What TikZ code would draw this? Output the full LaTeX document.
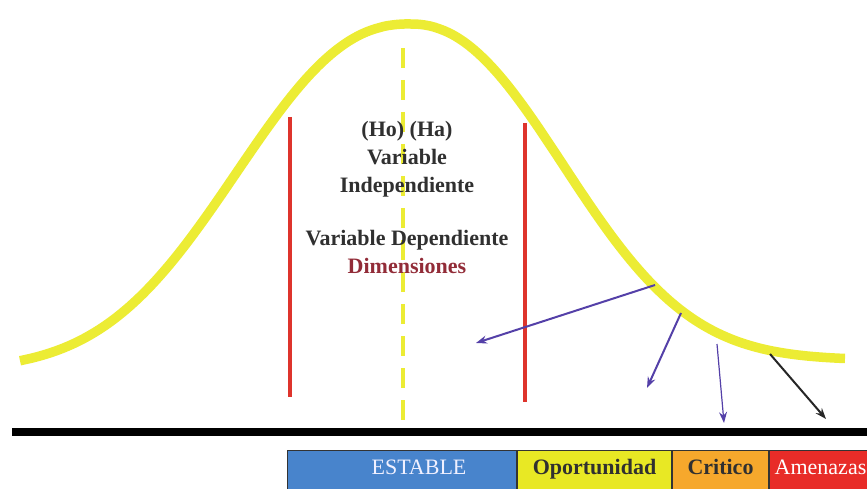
\documentclass[tikz,border=0pt]{standalone}
\usepackage{fontspec}
\setmainfont{Liberation Serif}
\usetikzlibrary{arrows.meta}
\definecolor{curveyellow}{RGB}{236,236,52}
\definecolor{limitred}{RGB}{222,52,44}
\definecolor{arrowblue}{RGB}{84,64,168}
\definecolor{textgray}{RGB}{48,48,48}
\definecolor{dimred}{RGB}{146,44,56}
\definecolor{zoneblue}{RGB}{72,132,204}
\definecolor{zoneyellow}{RGB}{232,232,36}
\definecolor{zoneorange}{RGB}{246,168,44}
\definecolor{zonered}{RGB}{232,44,40}
\begin{document}
\begin{tikzpicture}[x=1pt,y=-1pt]

    \tikzset{
      curve/.style={
        line width=9.5pt,
        line join=round,
        color=curveyellow,
      },
      limit/.style={
        line width=3.5pt,
        color=limitred,
      },
      shift arrow/.style={
        line width=2pt,
        -{Stealth[length=11pt,width=8pt]},
      },
      zone/.style={
        draw=black!80,
        line width=1pt,
        anchor=north west,
        inner sep=0pt,
        text height=24pt,
        text depth=20pt,
        font=\fontsize{22}{24}\selectfont,
      },
    }
    \useasboundingbox (0,0) rectangle (867,489);
    \clip (0,0) rectangle (867,489);
	\draw[curve] plot[domain=20:410, samples=90] (\x,{370-346*exp(-((410.001-\x)/223)^2.3)})
	  -- plot[domain=410:845, samples=90] (\x,{360-336*exp(-((\x-409.999)/202)^2.2)});
	\draw[color={curveyellow},line width=3.5pt,dash pattern=on 20pt off 12pt] (403,48)--(403,425);
	\draw[limit] (290,117)--(290,397);
	\draw[limit] (525,123)--(525,402);
	\draw[color={black},line width=8pt] (12,432)--(880,432);
	\node[align=center, text=textgray, font=\bfseries\fontsize{22}{28}\selectfont, anchor=north] (hipotesis) at (407,118) {(Ho) (Ha)\\Variable\\Independiente\\[25pt]Variable Dependiente\\\textcolor{dimred}{Dimensiones}};
	\coordinate (p1) at (655,285);
	\coordinate (p2) at (681,313);
	\coordinate (p3) at (717,344);
	\coordinate (p4) at (770,354);
	\coordinate (q1) at (476,343);
	\coordinate (q2) at (647,388);
	\coordinate (q3) at (724,423);
	\coordinate (q4) at (826,419);
	\draw[shift arrow, color={arrowblue}] (p1)--(q1);
	\draw[shift arrow, color={arrowblue}] (p2)--(q2);
	\draw[shift arrow, color={arrowblue}, line width=1.2pt] (p3)--(q3);
	\draw[shift arrow, color={black!85}] (p4)--(q4);
	\node[zone, fill=zoneblue, text=blue!6, minimum width=229pt] (estable) at (287,450) {\hspace*{34pt}ESTABLE};
	\node[zone, fill=zoneyellow, text=textgray, minimum width=154pt, font=\bfseries\fontsize{22}{24}\selectfont] (oportunidad) at (estable.north east) {Oportunidad};
	\node[zone, fill=zoneorange, text=textgray, minimum width=96pt, font=\bfseries\fontsize{22}{24}\selectfont] (critico) at (oportunidad.north east) {Critico};
	\node[zone, fill=zonered, text=white, minimum width=110pt] (amenazas) at (critico.north east) {\hspace*{-8pt}Amenazas};

\end{tikzpicture}
\end{document}
